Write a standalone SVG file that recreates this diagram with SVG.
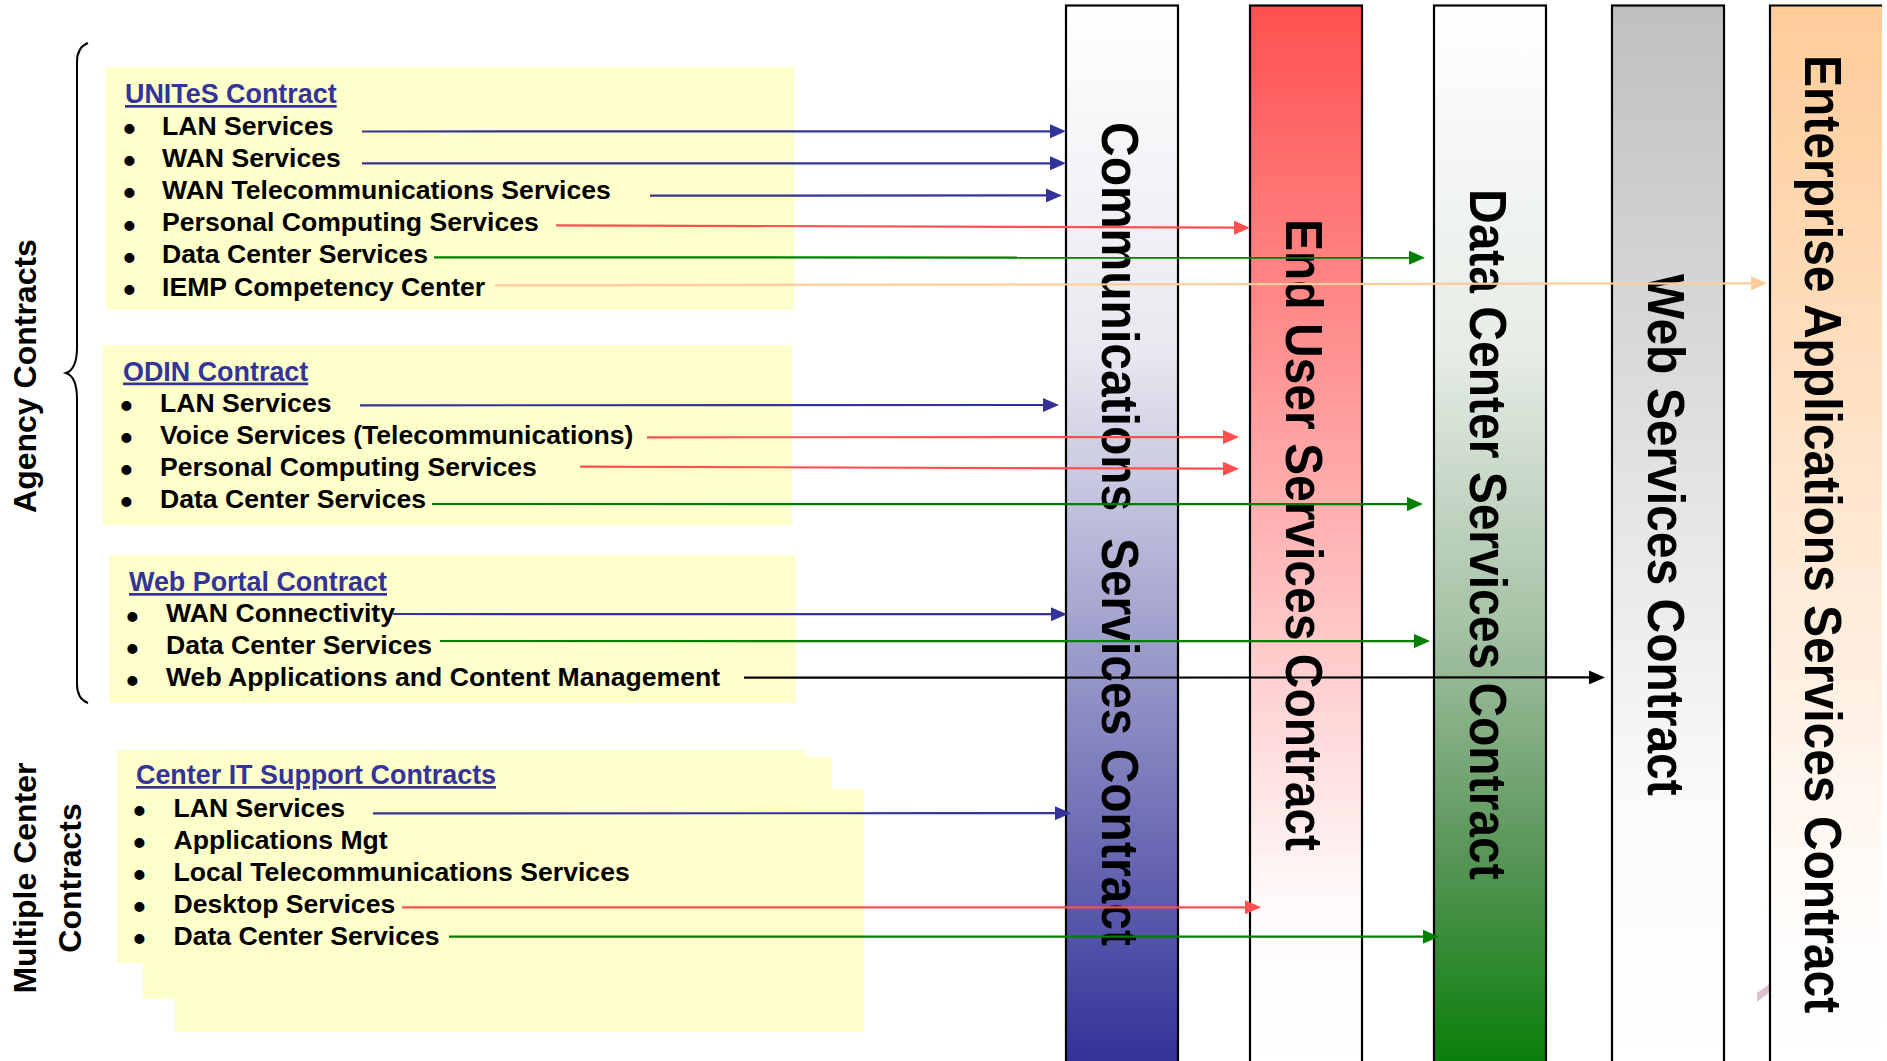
<svg xmlns="http://www.w3.org/2000/svg" width="1887" height="1061" viewBox="0 0 1887 1061">
<style>
.box{fill:#ffffcc}
.t{font-family:"Liberation Sans",Arial,sans-serif;font-weight:bold;font-size:26.6px;fill:#000}
.h{fill:#333399;text-decoration:underline;font-size:26.9px}
.b{font-family:"Liberation Sans",Arial,sans-serif;font-weight:bold;font-size:28px;fill:#000;stroke:#000;stroke-width:2}
.col{font-family:"Liberation Sans",Arial,sans-serif;font-weight:bold;font-size:48px;fill:#000}
.lab{font-family:"Liberation Sans",Arial,sans-serif;font-weight:bold;font-size:32px;fill:#000;text-anchor:middle}
.colr{stroke:#000;stroke-width:2.2}
.c{fill:none;stroke-width:2.2}
.blue{stroke:#333399}
.red{stroke:#ff5050}
.green{stroke:#008000}
.orange{stroke:#ffcc99}
.black{stroke:#000}
</style>
<defs>
<linearGradient id="gBlue" gradientUnits="userSpaceOnUse" x1="0" y1="5" x2="0" y2="1061">
<stop offset="0" stop-color="#ffffff"/><stop offset="0.33" stop-color="#e8e8f0"/><stop offset="1" stop-color="#333399"/>
</linearGradient>
<linearGradient id="gRed" gradientUnits="userSpaceOnUse" x1="0" y1="5" x2="0" y2="1061">
<stop offset="0" stop-color="#ff5050"/><stop offset="0.85" stop-color="#fffafa"/><stop offset="1" stop-color="#ffffff"/>
</linearGradient>
<linearGradient id="gGreen" gradientUnits="userSpaceOnUse" x1="0" y1="5" x2="0" y2="1061">
<stop offset="0" stop-color="#ffffff"/><stop offset="0.33" stop-color="#e6ece6"/><stop offset="0.6" stop-color="#a2c0a2"/><stop offset="0.8" stop-color="#5a965a"/><stop offset="1" stop-color="#0a7f0a"/>
</linearGradient>
<linearGradient id="gGrey" gradientUnits="userSpaceOnUse" x1="0" y1="5" x2="0" y2="1061">
<stop offset="0" stop-color="#c0c0c0"/><stop offset="0.75" stop-color="#fafafa"/><stop offset="1" stop-color="#ffffff"/>
</linearGradient>
<linearGradient id="gOrange" gradientUnits="userSpaceOnUse" x1="0" y1="5" x2="0" y2="1061">
<stop offset="0" stop-color="#ffcc99"/><stop offset="0.85" stop-color="#fffcfa"/><stop offset="1" stop-color="#ffffff"/>
</linearGradient>
<marker id="aBlue" markerUnits="userSpaceOnUse" viewBox="0 0 16 14" refX="8" refY="7" markerWidth="16" markerHeight="14" orient="auto"><path d="M0,0 L16,7 L0,14 Z" fill="#333399"/></marker>
<marker id="aRed" markerUnits="userSpaceOnUse" viewBox="0 0 16 14" refX="8" refY="7" markerWidth="16" markerHeight="14" orient="auto"><path d="M0,0 L16,7 L0,14 Z" fill="#ff5050"/></marker>
<marker id="aGreen" markerUnits="userSpaceOnUse" viewBox="0 0 16 14" refX="8" refY="7" markerWidth="16" markerHeight="14" orient="auto"><path d="M0,0 L16,7 L0,14 Z" fill="#008000"/></marker>
<marker id="aOrange" markerUnits="userSpaceOnUse" viewBox="0 0 16 14" refX="8" refY="7" markerWidth="16" markerHeight="14" orient="auto"><path d="M0,0 L16,7 L0,14 Z" fill="#ffcc99"/></marker>
<marker id="aBlack" markerUnits="userSpaceOnUse" viewBox="0 0 16 14" refX="8" refY="7" markerWidth="16" markerHeight="14" orient="auto"><path d="M0,0 L16,7 L0,14 Z" fill="#000"/></marker>
</defs>
<rect width="1887" height="1061" fill="#ffffff"/>

<!-- left labels -->
<g id="label-agency">
<path d="M88,43 C80,46 77,52 77,62 L77,347 C77,365 72,371 66,373 C72,375 77,381 77,399 L77,684 C77,694 80,700 88,703" fill="none" stroke="#000" stroke-width="2"/>
<text class="lab" transform="translate(35.5,376) rotate(-90)">Agency Contracts</text>
</g>
<g id="label-multiple">
<text class="lab" transform="translate(35.5,878) rotate(-90)">Multiple Center</text>
<text class="lab" transform="translate(80.5,878) rotate(-90)">Contracts</text>
</g>

<!-- columns -->
<g id="col-comm">
<rect x="1066" y="5.5" width="112" height="1070" fill="url(#gBlue)" class="colr"/>
<text class="col" xml:space="preserve" transform="translate(1102,122) rotate(90) scale(1,1.08)">Communications  Services Contract</text>
</g>
<g id="col-enduser">
<rect x="1250" y="5.5" width="112" height="1070" fill="url(#gRed)" class="colr"/>
<text class="col" transform="translate(1286,219) rotate(90) scale(1,1.08)">End User Services Contract</text>
</g>
<g id="col-datacenter">
<rect x="1434" y="5.5" width="112" height="1070" fill="url(#gGreen)" class="colr"/>
<text class="col" transform="translate(1469.5,189) rotate(90) scale(1,1.08)">Data Center Services Contract</text>
</g>
<g id="col-web">
<rect x="1612" y="5.5" width="112" height="1070" fill="url(#gGrey)" class="colr"/>
<text class="col" transform="translate(1648,274) rotate(90) scale(1,1.08)">Web Services Contract</text>
</g>
<polygon points="1757,993 1771,983 1771,991 1757,1002" fill="#dcc0d0"/>
<g id="col-enterprise">
<rect x="1770" y="5.5" width="112" height="1070" fill="url(#gOrange)"/>
<path d="M1770,1075 L1770,5.5 L1882,5.5" fill="none" class="colr"/>
<text class="col" transform="translate(1805,55) rotate(90) scale(1,1.08)">Enterprise Applications Services Contract</text>
</g>

<!-- contract boxes -->
<g id="box-unites">
<rect class="box" x="106" y="67" width="688" height="243"/>
<text class="t h" x="125" y="103">UNITeS Contract</text>
<text class="b" x="124.5" y="138">•</text><text class="t" x="162" y="134.5">LAN Services</text>
<text class="b" x="124.5" y="170.2">•</text><text class="t" x="162" y="166.7">WAN Services</text>
<text class="b" x="124.5" y="202.4">•</text><text class="t" x="162" y="198.9">WAN Telecommunications Services</text>
<text class="b" x="124.5" y="234.6">•</text><text class="t" x="162" y="231.1">Personal Computing Services</text>
<text class="b" x="124.5" y="266.8">•</text><text class="t" x="162" y="263.3">Data Center Services</text>
<text class="b" x="124.5" y="299">•</text><text class="t" x="162" y="295.5">IEMP Competency Center</text>
</g>
<g id="box-odin">
<rect class="box" x="103" y="345" width="689" height="180"/>
<text class="t h" x="123" y="380.5">ODIN Contract</text>
<text class="b" x="121.5" y="415.2">•</text><text class="t" x="160" y="411.7">LAN Services</text>
<text class="b" x="121.5" y="447.2">•</text><text class="t" x="160" y="443.7">Voice Services (Telecommunications)</text>
<text class="b" x="121.5" y="479.2">•</text><text class="t" x="160" y="475.7">Personal Computing Services</text>
<text class="b" x="121.5" y="511.4">•</text><text class="t" x="160" y="507.9">Data Center Services</text>
</g>
<g id="box-webportal">
<rect class="box" x="109" y="555" width="687" height="148"/>
<text class="t h" x="129" y="591">Web Portal Contract</text>
<text class="b" x="127.5" y="625.5">•</text><text class="t" x="166" y="622">WAN Connectivity</text>
<text class="b" x="127.5" y="657.5">•</text><text class="t" x="166" y="654">Data Center Services</text>
<text class="b" x="127.5" y="689.5">•</text><text class="t" x="166" y="686">Web Applications and Content Management</text>
</g>
<g id="box-centerit">
<rect class="box" x="175" y="789" width="689" height="243"/>
<rect class="box" x="143" y="757" width="689" height="242"/>
<rect class="box" x="117" y="750" width="688" height="213"/>
<text class="t h" x="136" y="784">Center IT Support Contracts</text>
<text class="b" x="134.5" y="820">•</text><text class="t" x="173.5" y="816.5">LAN Services</text>
<text class="b" x="134.5" y="852">•</text><text class="t" x="173.5" y="848.5">Applications Mgt</text>
<text class="b" x="134.5" y="884">•</text><text class="t" x="173.5" y="880.5">Local Telecommunications Services</text>
<text class="b" x="134.5" y="916">•</text><text class="t" x="173.5" y="912.5">Desktop Services</text>
<text class="b" x="134.5" y="948">•</text><text class="t" x="173.5" y="944.5">Data Center Services</text>
</g>

<!-- connectors -->
<g id="connectors">
<line class="c blue" x1="362" y1="131.5" x2="1058" y2="131.3" marker-end="url(#aBlue)"/>
<line class="c blue" x1="362" y1="163.3" x2="1058" y2="163.3" marker-end="url(#aBlue)"/>
<line class="c blue" x1="650" y1="195.7" x2="1054" y2="195.4" marker-end="url(#aBlue)"/>
<line class="c red" x1="556" y1="225.3" x2="1242" y2="227.7" marker-end="url(#aRed)"/>
<line class="c green" x1="434" y1="257.3" x2="1417" y2="257.7" marker-end="url(#aGreen)"/>
<line class="c orange" x1="495" y1="285.3" x2="1759" y2="283.3" marker-end="url(#aOrange)"/>
<line class="c blue" x1="360" y1="405.3" x2="1051" y2="405" marker-end="url(#aBlue)"/>
<line class="c red" x1="647" y1="437.3" x2="1231" y2="437.1" marker-end="url(#aRed)"/>
<line class="c red" x1="580" y1="466.7" x2="1231" y2="468.7" marker-end="url(#aRed)"/>
<line class="c green" x1="432" y1="504" x2="1415" y2="504.1" marker-end="url(#aGreen)"/>
<line class="c blue" x1="393" y1="614" x2="1059" y2="614.2" marker-end="url(#aBlue)"/>
<line class="c green" x1="440" y1="641" x2="1422" y2="641.1" marker-end="url(#aGreen)"/>
<line class="c black" x1="744" y1="677.7" x2="1597" y2="677.4" marker-end="url(#aBlack)"/>
<line class="c blue" x1="373" y1="813.3" x2="1063" y2="813.2" marker-end="url(#aBlue)"/>
<line class="c red" x1="402" y1="907.3" x2="1253" y2="907.3" marker-end="url(#aRed)"/>
<line class="c green" x1="449" y1="936.7" x2="1431" y2="936.7" marker-end="url(#aGreen)"/>
</g>
</svg>
